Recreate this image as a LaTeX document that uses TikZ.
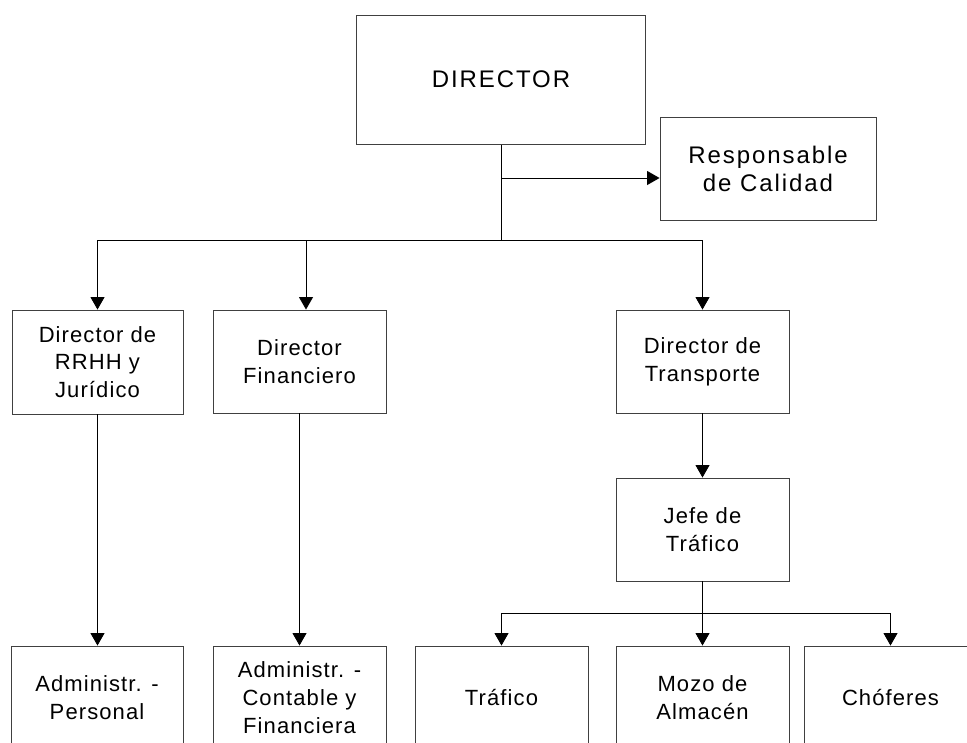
\documentclass[tikz,border=0pt]{standalone}
\usepackage{fontspec}
\setmainfont{Liberation Sans}[LetterSpace=5]
\usetikzlibrary{arrows.meta}
\begin{document}
\begin{tikzpicture}[x=1pt,y=-1pt,
  box/.style={draw=black!75, line width=0.9pt, inner sep=0pt, align=center,
    minimum width=173pt, minimum height=103pt,
    font=\fontsize{22}{27.7}\selectfont},
  bigtext/.style={font=\fontsize{24}{27.7}\selectfont\addfontfeature{LetterSpace=8}},
  conn/.style={line width=0.9pt, -{Triangle[width=14pt,length=12.5pt]}},
  plain/.style={line width=0.9pt}]
\clip (0,0) rectangle (967,742);
\fill[white] (0,0) rectangle (967,742);
% nodes
\node[box, bigtext, minimum width=289pt, minimum height=129pt] (dir) at (501,79.7) {DIRECTOR};
\node[box, bigtext, minimum width=216pt] (resp) at (768,168.7) {Responsable\\de Calidad};
\node[box, minimum width=171pt, minimum height=104pt] (rrhh) at (97.5,362) {Director de\\RRHH y\\Jurídico};
\node[box] (fin) at (299.5,361.5) {Director\\Financiero};
\node[box] (trans) at (702.5,361.5) {Director de\\Transporte};
\node[box] (jefe) at (702.5,529.5) {Jefe de\\Tráfico};
\node[box, minimum width=172pt] (pers) at (97,697.5) {Administr. -\\Personal};
\node[box] (cont) at (299.5,697.5) {Administr. -\\Contable y\\Financiera};
\node[box] (traf) at (501.5,697.5) {Tráfico};
\node[box] (mozo) at (702.5,697.5) {Mozo de\\Almacén};
\node[box] (chof) at (890.5,697.5) {Chóferes};
% connectors
\coordinate (b1) at (dir.south |- 0,240);
\coordinate (q) at (dir.south |- 0,178);
\coordinate (b2) at (jefe.south |- 0,613);
\draw[plain] (dir.south) -- (b1);
\draw[conn] (q) -- (q -| resp.west);
\draw[conn] (b1) -| (rrhh.north);
\draw[conn] (b1) -| ([xshift=6.5pt]fin.north);
\draw[conn] (b1) -| (trans.north);
\draw[conn] (rrhh.south) -- (rrhh.south |- pers.north);
\draw[conn] (fin.south) -- (fin.south |- cont.north);
\draw[conn] (trans.south) -- (jefe.north);
\draw[plain] (jefe.south) -- (b2);
\draw[conn] (b2) -| (traf.north);
\draw[conn] (b2) -- (mozo.north);
\draw[conn] (b2) -| (chof.north);
\end{tikzpicture}
\end{document}
